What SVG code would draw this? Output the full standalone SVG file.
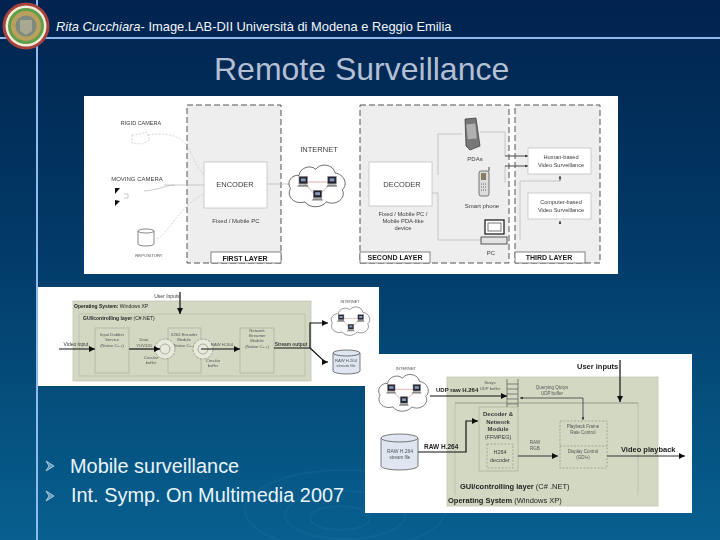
<svg xmlns="http://www.w3.org/2000/svg" width="720" height="540" viewBox="0 0 720 540">
<style>
text{font-family:"Liberation Sans",Arial,sans-serif}
.t{fill:#3c3c3c;text-anchor:middle}
.s{fill:#555;text-anchor:middle}
.b{fill:#222;font-weight:bold}
.lay{fill:#1c1c1c;font-weight:bold;text-anchor:middle}
.dash{fill:#eeeeee;stroke:#555;stroke-width:1;stroke-dasharray:6 3}
.box{fill:#fff;stroke:#bbb;stroke-width:.7}
.lab{fill:#fff;stroke:#666;stroke-width:.8}
.os{fill:#d3d8c3;stroke:#c4c9b2;stroke-width:.8}
.in{fill:none;stroke:#b9bfa8;stroke-width:.8}
.mod{fill:#d3d8c3;stroke:#aeb39c;stroke-width:.8}
.dm{fill:none;stroke:#8f9480;stroke-width:.7;stroke-dasharray:2 1.5}
.gl{fill:none;stroke:#b5b5b5;stroke-width:.7}
.gd{fill:none;stroke:#c4c4c4;stroke-width:.7;stroke-dasharray:2 1.5}
.k{fill:none;stroke:#111;stroke-width:1.2}
.ka{fill:none;stroke:#111;stroke-width:1.2;marker-end:url(#ah)}
.ks{fill:none;stroke:#222;stroke-width:.7;marker-end:url(#as)}
.cy{fill:#dfe6f1;stroke:#444;stroke-width:.7}
.cw{fill:#fff;stroke:#555;stroke-width:.7}
.bl{fill:#eaf4fa;font-size:19.900px}
.soft{filter:url(#soft)}
</style>
<defs>
<filter id="soft" x="0" y="0" width="1" height="1"><feGaussianBlur stdDeviation=".35"/></filter>
<linearGradient id="bg" x1="0" y1="0" x2="0" y2="1">
<stop offset="0" stop-color="#01234e"/>
<stop offset=".45" stop-color="#023a68"/>
<stop offset="1" stop-color="#07608f"/>
</linearGradient>
<marker id="ah" markerWidth="6" markerHeight="6" refX="5" refY="3" orient="auto"><path d="M0 .5L5 3L0 5.500Z" fill="#111"/></marker>
<marker id="as" markerWidth="5" markerHeight="5" refX="4" refY="2.500" orient="auto"><path d="M0 .8L4 2.500L0 4.200Z" fill="#222"/></marker>
<symbol id="cloud" viewBox="0 0 100 76">
<path d="M20 22C22 8 40 4 48 12C56 0 78 4 80 18C96 20 102 38 92 46C100 60 80 74 66 66C56 78 36 76 30 66C12 72-2 56 6 44C-2 34 8 20 20 22Z" fill="#fff" stroke="#333" stroke-width="1.200"/>
<path d="M27 33H76L50 58Z" fill="none" stroke="#c77" stroke-width="1"/>
<g id="pc"><rect x="20" y="24" width="14" height="12" fill="#223" stroke="#777"/><rect x="23" y="27" width="8" height="5" fill="#8899b5"/><path d="M17 41L36 41L34 37L20 37Z" fill="#888"/></g>
<use href="#pc" x="48"/><use href="#pc" x="24" y="23"/>
</symbol>
</defs>
<rect id="background" width="720" height="540" fill="url(#bg)"/>
<g fill="none" stroke="#2a7fa8" stroke-opacity=".18" stroke-width="2">
<ellipse cx="345" cy="510" rx="100" ry="40"/><ellipse cx="345" cy="515" rx="60" ry="24"/><ellipse cx="340" cy="518" rx="30" ry="12"/>
</g>
<g id="frame" stroke="#8fbaf0" stroke-width="2"><path d="M37 0V540"/><path d="M0 38H720"/></g>
<g id="logo">
<circle cx="26" cy="26" r="23.500" fill="#a6433f"/><circle cx="26" cy="26" r="20.500" fill="#f4ecd8"/><circle cx="26" cy="26" r="18" fill="#5f9e4a"/><circle cx="26" cy="26" r="15" fill="#b9a05c"/><circle cx="26" cy="26" r="10.500" fill="#7c8a80"/><path d="M20 20H32V31L26 35L20 31Z" fill="#a9a990"/>
</g>
<g id="header">
<text x="56" y="31" fill="#f2f5fa" font-size="12.900"><tspan font-style="italic">Rita Cucchiara</tspan>- Image.LAB-DII Università di Modena e Reggio Emilia</text>
<text x="214" y="80" fill="#b4bfd4" font-size="32">Remote Surveillance</text>
</g>

<g id="figure-top" class="soft">
<rect x="84" y="96" width="534" height="178" fill="#fff"/>
<rect class="dash" x="187" y="105" width="94" height="158"/>
<rect class="dash" x="360" y="105" width="149" height="158"/>
<rect class="dash" x="515" y="105" width="85" height="158"/>
<g id="connectors-top">
<path class="gl" d="M267 184H290M432 193H438V240H482"/>
<path class="gl" d="M438 175V134H462M480 132H505V156H524M505 183V166H524"/>
<path class="gl" d="M164 185H204M144 191C160 190 165 185 175 185"/>
<path class="gd" d="M148 135C180 130 188 145 192 155C196 165 200 170 204 175M157 239C170 232 180 205 204 194"/>
<path class="gl" d="M520 240V181H560"/>
<path class="ks" d="M505 156H528"/><path class="ks" d="M505 166H528"/>
<path class="ks" d="M560 181V176"/><path class="ks" d="M560 224V221"/>
</g>
<g id="rigid-camera"><path class="gd" d="M132 135L140 134L147 132L150 140L142 144L132 143Z"/><text class="t" x="141" y="125" style="font-size:5.500px">RIGID CAMERA</text></g>
<g id="moving-camera"><text class="t" x="137" y="181" style="font-size:6px">MOVING CAMERA</text><path d="M115 188L120 188L115 194ZM115 206L120 201L115 200Z" fill="#111"/><path class="gl" d="M124 194H128V198H124"/></g>
<g id="repository"><path class="cw" d="M138 231A8 2 0 0 1 154 231V244A8 2 0 0 1 138 244Z"/><path class="cw" d="M138 231A8 2 0 0 0 154 231"/><text class="s" x="149" y="257" style="font-size:4.200px">REPOSITORY</text></g>
<g id="encoder"><rect class="box" x="204" y="162" width="63" height="46"/><text class="t" x="235" y="187" style="font-size:7.500px">ENCODER</text><text class="t" x="236" y="223" style="font-size:6px">Fixed / Mobile PC</text></g>
<g id="first-layer"><rect class="lab" x="211" y="252" width="70" height="11"/><text class="lay" x="245" y="260.500" style="font-size:7px">FIRST LAYER</text></g>
<g id="internet"><use href="#cloud" x="287" y="162" width="60" height="46"/><text class="t" x="319" y="152" style="font-size:7.500px">INTERNET</text></g>
<g id="decoder"><rect class="box" x="369" y="162" width="63" height="44"/><text class="t" x="402" y="187" style="font-size:7.500px">DECODER</text><text class="t" x="403" y="216" style="font-size:5.800px">Fixed / Mobile PC /</text><text class="t" x="403" y="223" style="font-size:5.800px">Mobile PDA-like</text><text class="t" x="403" y="230" style="font-size:5.800px">device</text></g>
<g id="pda"><path d="M465 119L476 118L480 146L470 150L466 146Z" fill="#777" stroke="#333" stroke-width=".7"/><rect x="467" y="124" width="9" height="15" fill="#b0b0b0" transform="rotate(-6 471 131)"/><text class="t" x="475" y="161" style="font-size:6px">PDAs</text></g>
<g id="smartphone"><rect x="479" y="171" width="10" height="25" rx="2" fill="#ddd" stroke="#444" stroke-width=".7"/><rect x="481" y="173" width="5" height="7" fill="#8a7c62"/><path d="M489 171V167" stroke="#444"/><path d="M481 184H487M481 187H487M481 190H487" stroke="#666" stroke-dasharray="1 1"/><text class="t" x="482" y="208" style="font-size:6px">Smart phone</text></g>
<g id="pc-node"><rect x="485" y="220" width="19" height="14" fill="#fff" stroke="#222" stroke-width="1.300"/><rect x="488" y="223" width="13" height="8" fill="#fff" stroke="#555" stroke-width=".8"/><rect x="481" y="237" width="26" height="7" fill="#e2e2e2" stroke="#333" stroke-width=".8"/><text class="t" x="491" y="255" style="font-size:6px">PC</text></g>
<g id="human"><rect class="box" x="528" y="148" width="63" height="26"/><text class="t" x="561" y="159" style="font-size:5.600px">Human-based</text><text class="t" x="561" y="167" style="font-size:5.600px">Video Surveillance</text></g>
<g id="computer"><rect class="box" x="528" y="193" width="63" height="26"/><text class="t" x="561" y="204" style="font-size:5.600px">Computer-based</text><text class="t" x="561" y="212" style="font-size:5.600px">Video Surveillance</text></g>
<g id="second-layer"><rect class="lab" x="360" y="252" width="70" height="11"/><text class="lay" x="395" y="260" style="font-size:7px">SECOND LAYER</text></g>
<g id="third-layer"><rect class="lab" x="515" y="252" width="70" height="11"/><text class="lay" x="549" y="260" style="font-size:7px">THIRD LAYER</text></g>
</g>

<g id="figure-left" class="soft">
<rect x="38" y="287" width="341" height="99" fill="#fff"/>
<rect class="os" x="73" y="301" width="238" height="80"/>
<rect class="in" x="79" y="314" width="226" height="62"/>
<text class="b" x="74" y="307.500" style="font-size:5px">Operating System: <tspan font-weight="normal">Windows XP</tspan></text>
<text class="b" x="83" y="320" style="font-size:5px">GUI/controlling layer <tspan font-weight="normal">(C#.NET)</tspan></text>
<g id="input-module"><rect class="mod" x="95" y="328" width="34" height="45"/><text class="s" x="112" y="336" style="font-size:4.200px">Input Dabber</text><text class="s" x="112" y="341" style="font-size:4.200px">Service</text><text class="s" x="112" y="347" style="font-size:4.200px">(Native C++)</text></g>
<g id="encoder-module"><rect class="mod" x="168" y="328" width="33" height="45"/><text class="s" x="184" y="336" style="font-size:4.200px">X264 Encoder</text><text class="s" x="184" y="341" style="font-size:4.200px">Module</text><text class="s" x="184" y="347" style="font-size:4.200px">(Native C++)</text></g>
<g id="streamer-module"><rect class="mod" x="240" y="328" width="34" height="45"/><text class="s" x="257" y="332" style="font-size:4.200px">Network</text><text class="s" x="257" y="337" style="font-size:4.200px">Streamer</text><text class="s" x="257" y="342" style="font-size:4.200px">Module</text><text class="s" x="257" y="348" style="font-size:4.200px">(Native C++)</text></g>
<g id="buffers" fill="#e6e9dc" stroke="#8f9480" stroke-width=".7"><circle cx="165" cy="349" r="10" stroke-dasharray="3 1"/><circle cx="165" cy="349" r="5"/><circle cx="203" cy="349" r="10" stroke-dasharray="3 1"/><circle cx="203" cy="349" r="5"/></g>
<g id="connectors-left">
<path class="ka" d="M59 349H95"/><path class="ka" d="M129 349H160"/><path class="ka" d="M201 349H240"/><path class="ka" d="M180 292V314"/>
<path class="k" d="M274 348H310"/><path class="ka" d="M310 348V323H328"/><path class="ka" d="M310 348L325 362H328"/>
</g>
<text class="t" x="167" y="298" style="font-size:5px">User Inputs</text>
<text class="t" x="76" y="346" style="font-size:5px">Video input</text>
<text class="s" x="144" y="341" style="font-size:4.200px">Data</text><text class="s" x="144" y="347" style="font-size:4.200px">YUV420</text>
<text class="s" x="151" y="359" style="font-size:4.200px">Circular</text><text class="s" x="151" y="364" style="font-size:4.200px">buffer</text>
<text class="s" x="213" y="362" style="font-size:4.200px">Circular</text><text class="s" x="213" y="367" style="font-size:4.200px">buffer</text>
<text class="s" x="222" y="346" style="font-size:4.200px">RAW H.264</text>
<text class="t" x="291" y="346" style="font-size:4.800px;font-weight:bold">Stream output</text>
<g id="internet-left"><use href="#cloud" x="330" y="303" width="41" height="35"/><text class="s" x="350" y="303" style="font-size:3.800px">INTERNET</text></g>
<g id="raw-left"><path class="cy" d="M333 353A13.500 3 0 0 1 360 353V371A13.500 3 0 0 1 333 371Z"/><path class="cy" d="M333 353A13.500 3 0 0 0 360 353"/><text class="s" x="346" y="362" style="font-size:4.200px">RAW H.264</text><text class="s" x="346" y="367" style="font-size:4.200px">stream file</text></g>
</g>

<g id="figure-right" class="soft">
<rect x="365" y="354" width="327" height="159" fill="#fff"/>
<rect class="os" x="447" y="377" width="211" height="129"/>
<path class="in" d="M638 403V495M455 403V495"/>
<g id="decoder-module"><rect class="mod" x="479" y="407" width="39" height="64"/><text class="t" x="498" y="416" style="font-size:6px;font-weight:bold">Decoder &amp;</text><text class="t" x="498" y="423.500" style="font-size:6px;font-weight:bold">Network</text><text class="t" x="498" y="431" style="font-size:6px;font-weight:bold">Module</text><text class="t" x="498" y="439" style="font-size:5.500px">(FFMPEG)</text><rect class="dm" x="487" y="444" width="26" height="24"/><text class="t" x="500" y="454" style="font-size:5.500px">H264</text><text class="t" x="500" y="462" style="font-size:5.500px">decoder</text></g>
<g id="playback-module"><rect class="dm" x="560" y="421" width="47" height="47"/><path class="dm" d="M560 446H607"/><text class="s" x="583" y="428" style="font-size:4.500px">Playback Frame</text><text class="s" x="583" y="434" style="font-size:4.500px">Rate Control</text><text class="s" x="583" y="453" style="font-size:4.500px">Display Control</text><text class="s" x="583" y="459" style="font-size:4.500px">(GDI+)</text></g>
<g id="udp-buffer" stroke="#555" stroke-width=".7" fill="none"><path d="M507 379V407M518 379V407M507 384H518M507 389H518M507 394H518M507 399H518M507 404H518"/></g>
<g id="connectors-right">
<path d="M455 403H638" fill="none" stroke="#7f8473" stroke-width=".7"/>
<path class="ka" d="M430 396H507"/>
<path class="ka" d="M418 452H466V421H478"/>
<path class="ka" d="M518 456H558" style="stroke:#333"/>
<path class="ka" d="M607 456H685" style="stroke:#333"/>
<path class="ka" d="M620 360V402"/>
<path class="ks" d="M583 398H520"/><path class="ks" d="M583 398V420"/>
</g>
<text class="s" x="490" y="384" style="font-size:4.200px">Stotys</text><text class="s" x="490" y="390" style="font-size:4.200px">UDP buffer</text>
<text class="s" x="552" y="389" style="font-size:4.500px">Querying Qtotys</text><text class="s" x="552" y="395" style="font-size:4.500px">UDP buffer</text>
<text class="b" x="436" y="392" style="font-size:6px">UDP raw H.264</text>
<text class="b" x="424" y="449" style="font-size:6.500px">RAW H.264</text>
<text class="s" x="535" y="444" style="font-size:4.500px">RAW</text><text class="s" x="535" y="450" style="font-size:4.500px">RGB</text>
<text class="b" x="577" y="369" style="font-size:7.500px">User inputs</text>
<text class="b" x="621" y="452" style="font-size:7.500px">Video playback</text>
<text class="b" x="460" y="489" style="font-size:7.500px">GUI/controlling layer <tspan font-weight="normal">(C# .NET)</tspan></text>
<text class="b" x="448" y="503" style="font-size:7.500px">Operating System <tspan font-weight="normal">(Windows XP)</tspan></text>
<g id="internet-right"><use href="#cloud" x="377" y="371" width="53" height="42"/><text class="s" x="406" y="370" style="font-size:4px">INTERNET</text></g>
<g id="raw-right"><path class="cy" d="M381 438A18.500 4 0 0 1 418 438V466A18.500 4 0 0 1 381 466Z"/><path class="cy" d="M381 438A18.500 4 0 0 0 418 438"/><text class="s" x="400" y="453" style="font-size:5px">RAW H.264</text><text class="s" x="400" y="459" style="font-size:4.500px">stream file</text></g>
</g>

<g id="bullets">
<path d="M46 461L54 466L46 471L49 466Z M46 491L54 496L46 501L49 496Z" fill="#bcd9ee" fill-opacity=".5" stroke="#bcd9ee" stroke-width=".8"/>
<text class="bl" x="70" y="473">Mobile surveillance</text>
<text class="bl" x="71" y="502">Int. Symp. On Multimedia 2007</text>
</g>
</svg>
